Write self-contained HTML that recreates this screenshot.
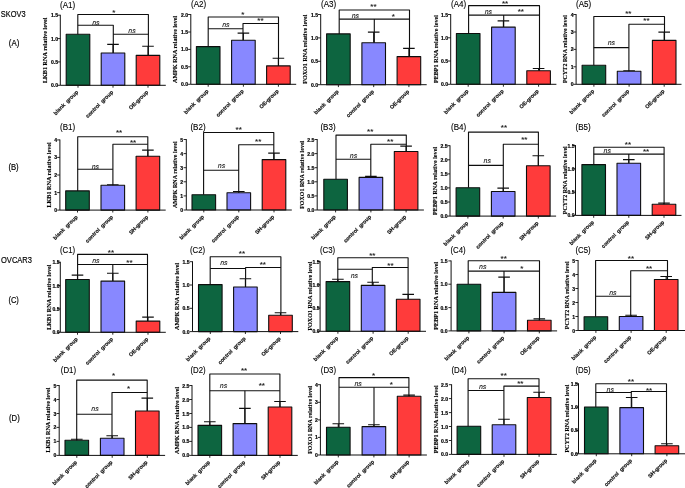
<!DOCTYPE html>
<html><head><meta charset="utf-8"><title>Figure</title>
<style>html,body{margin:0;padding:0;background:#fff;}body{width:685px;height:488px;overflow:hidden;font-family:"Liberation Sans",sans-serif;}svg{display:block;}</style>
</head><body>
<svg width="685" height="488" viewBox="0 0 685 488"><defs><filter id="bl" x="0" y="0" width="100%" height="100%" filterUnits="userSpaceOnUse"><feGaussianBlur stdDeviation="0.42"/></filter></defs><g filter="url(#bl)">
<rect width="685" height="488" fill="#fff"/>
<g font-family="Liberation Sans, sans-serif" fill="#000" stroke="#000" stroke-width="0.18" stroke-linejoin="round">
<text x="0.8" y="17.2" font-size="9.2" textLength="24.8" lengthAdjust="spacingAndGlyphs">SKOV3</text>
<text x="8.8" y="46.2" font-size="8.8" textLength="10.5" lengthAdjust="spacingAndGlyphs">(A)</text>
<text x="8.4" y="170" font-size="8.8" textLength="10.3" lengthAdjust="spacingAndGlyphs">(B)</text>
<text x="1" y="263.3" font-size="9.2" textLength="31" lengthAdjust="spacingAndGlyphs">OVCAR3</text>
<text x="8.4" y="303.3" font-size="8.8" textLength="10.5" lengthAdjust="spacingAndGlyphs">(C)</text>
<text x="9" y="420.6" font-size="8.8" textLength="10.7" lengthAdjust="spacingAndGlyphs">(D)</text>
<text x="60" y="7.8" font-size="8.8" stroke-width="0.12" textLength="15.2" lengthAdjust="spacingAndGlyphs">(A1)</text>
<rect x="66.2" y="34.3" width="23.6" height="51.0" fill="#07653f" stroke="#111" stroke-width="1.1"/>
<path d="M78.0 85.3v2.4" stroke="#111" stroke-width="0.9"/>
<path d="M113.0 53.0V44.4M107.2 44.4H118.8" stroke="#111" stroke-width="1.12" fill="none"/>
<rect x="101.2" y="53.0" width="23.6" height="32.3" fill="#8888ff" stroke="#111" stroke-width="1.1"/>
<path d="M113.0 85.3v2.4" stroke="#111" stroke-width="0.9"/>
<path d="M148.0 55.4V46.3M142.2 46.3H153.8" stroke="#111" stroke-width="1.12" fill="none"/>
<rect x="136.2" y="55.4" width="23.6" height="29.9" fill="#ff3a3a" stroke="#111" stroke-width="1.1"/>
<path d="M148.0 85.3v2.4" stroke="#111" stroke-width="0.9"/>
<path d="M60.3 14.8V85.3H165.8" stroke="#111" stroke-width="1" fill="none"/>
<path d="M57.6 85.3H60.3" stroke="#111" stroke-width="0.9"/>
<text x="58.1" y="87.3" font-size="5.1" font-weight="bold" text-anchor="end">0.0</text>
<path d="M57.6 61.9H60.3" stroke="#111" stroke-width="0.9"/>
<text x="58.1" y="63.9" font-size="5.1" font-weight="bold" text-anchor="end">0.5</text>
<path d="M57.6 38.6H60.3" stroke="#111" stroke-width="0.9"/>
<text x="58.1" y="40.6" font-size="5.1" font-weight="bold" text-anchor="end">1.0</text>
<path d="M57.6 15.2H60.3" stroke="#111" stroke-width="0.9"/>
<text x="58.1" y="17.2" font-size="5.1" font-weight="bold" text-anchor="end">1.5</text>
<text transform="translate(47.4 83.1) rotate(-90)" font-family="Liberation Serif, serif" font-weight="bold" font-size="6.4" stroke-width="0.14" textLength="65.6" lengthAdjust="spacingAndGlyphs">LKB1 RNA relative level</text>
<path d="M77.8 34.3 L77.8 14.5 L148.4 14.5 L148.4 55.4" stroke="#111" stroke-width="1.12" fill="none"/>
<path d="M77.8 25.2 L113.3 25.2 L113.3 53.0" stroke="#111" stroke-width="1.12" fill="none"/>
<path d="M113.3 34.3 L148.4 34.3" stroke="#111" stroke-width="1.12" fill="none"/>
<text x="113.8" y="14.7" font-size="8" text-anchor="middle" fill="#222" stroke-width="0.12">*</text>
<text transform="translate(95.8 24.5) skewX(-2)" font-size="6.9" font-style="italic" text-anchor="middle" fill="#222" stroke-width="0.1">ns</text>
<text transform="translate(132.0 32.7) skewX(-2)" font-size="6.9" font-style="italic" text-anchor="middle" fill="#222" stroke-width="0.1">ns</text>
<text transform="translate(78.6 92.5) rotate(-45)" font-size="5.4" font-weight="bold" text-anchor="end" style="white-space:pre" fill="#222">blank  group</text>
<text transform="translate(113.6 92.5) rotate(-45)" font-size="5.4" font-weight="bold" text-anchor="end" style="white-space:pre" fill="#222">control  group</text>
<text transform="translate(148.6 92.5) rotate(-45)" font-size="5.4" font-weight="bold" text-anchor="end" style="white-space:pre" fill="#222">OE-group</text>
<text x="191" y="7.1" font-size="8.8" stroke-width="0.12" textLength="15.2" lengthAdjust="spacingAndGlyphs">(A2)</text>
<rect x="196.4" y="46.6" width="23.6" height="37.7" fill="#07653f" stroke="#111" stroke-width="1.1"/>
<path d="M208.2 84.3v2.4" stroke="#111" stroke-width="0.9"/>
<path d="M243.4 40.2V33.1M237.6 33.1H249.2" stroke="#111" stroke-width="1.12" fill="none"/>
<rect x="231.6" y="40.2" width="23.6" height="44.1" fill="#8888ff" stroke="#111" stroke-width="1.1"/>
<path d="M243.4 84.3v2.4" stroke="#111" stroke-width="0.9"/>
<path d="M278.4 65.9V58.2M272.6 58.2H284.2" stroke="#111" stroke-width="1.12" fill="none"/>
<rect x="266.6" y="65.9" width="23.6" height="18.4" fill="#ff3a3a" stroke="#111" stroke-width="1.1"/>
<path d="M278.4 84.3v2.4" stroke="#111" stroke-width="0.9"/>
<path d="M190.8 14.1V84.3H296.2" stroke="#111" stroke-width="1" fill="none"/>
<path d="M188.1 84.3H190.8" stroke="#111" stroke-width="0.9"/>
<text x="188.2" y="86.3" font-size="5.1" font-weight="bold" text-anchor="end">0.0</text>
<path d="M188.1 66.8H190.8" stroke="#111" stroke-width="0.9"/>
<text x="188.2" y="68.8" font-size="5.1" font-weight="bold" text-anchor="end">0.5</text>
<path d="M188.1 49.4H190.8" stroke="#111" stroke-width="0.9"/>
<text x="188.2" y="51.4" font-size="5.1" font-weight="bold" text-anchor="end">1.0</text>
<path d="M188.1 32.0H190.8" stroke="#111" stroke-width="0.9"/>
<text x="188.2" y="34.0" font-size="5.1" font-weight="bold" text-anchor="end">1.5</text>
<path d="M188.1 14.5H190.8" stroke="#111" stroke-width="0.9"/>
<text x="188.2" y="16.5" font-size="5.1" font-weight="bold" text-anchor="end">2.0</text>
<text transform="translate(177.1 82.9) rotate(-90)" font-family="Liberation Serif, serif" font-weight="bold" font-size="6.4" stroke-width="0.14" textLength="67.1" lengthAdjust="spacingAndGlyphs">AMPK RNA relative level</text>
<path d="M208.2 46.6 L208.2 17.0 L278.5 17.0 L278.5 65.9" stroke="#111" stroke-width="1.12" fill="none"/>
<path d="M208.2 28.7 L243.0 28.7" stroke="#111" stroke-width="1.12" fill="none"/>
<path d="M243.0 40.2 L243.0 23.5 L278.5 23.5" stroke="#111" stroke-width="1.12" fill="none"/>
<text x="242.8" y="16.5" font-size="8" text-anchor="middle" fill="#222" stroke-width="0.12">*</text>
<text x="260.4" y="23.2" font-size="8" text-anchor="middle" fill="#222" stroke-width="0.12">**</text>
<text transform="translate(225.9 27.4) skewX(-2)" font-size="6.9" font-style="italic" text-anchor="middle" fill="#222" stroke-width="0.1">ns</text>
<text transform="translate(208.8 91.5) rotate(-45)" font-size="5.4" font-weight="bold" text-anchor="end" style="white-space:pre" fill="#222">blank  group</text>
<text transform="translate(244.0 91.5) rotate(-45)" font-size="5.4" font-weight="bold" text-anchor="end" style="white-space:pre" fill="#222">control  group</text>
<text transform="translate(279.0 91.5) rotate(-45)" font-size="5.4" font-weight="bold" text-anchor="end" style="white-space:pre" fill="#222">OE-group</text>
<text x="321" y="6.9" font-size="8.8" stroke-width="0.12" textLength="15.2" lengthAdjust="spacingAndGlyphs">(A3)</text>
<rect x="326.6" y="33.9" width="23.6" height="50.8" fill="#07653f" stroke="#111" stroke-width="1.1"/>
<path d="M338.4 84.7v2.4" stroke="#111" stroke-width="0.9"/>
<path d="M373.7 42.8V32.1M367.9 32.1H379.5" stroke="#111" stroke-width="1.12" fill="none"/>
<rect x="361.9" y="42.8" width="23.6" height="41.9" fill="#8888ff" stroke="#111" stroke-width="1.1"/>
<path d="M373.7 84.7v2.4" stroke="#111" stroke-width="0.9"/>
<path d="M408.9 56.6V48.4M403.1 48.4H414.7" stroke="#111" stroke-width="1.12" fill="none"/>
<rect x="397.1" y="56.6" width="23.6" height="28.1" fill="#ff3a3a" stroke="#111" stroke-width="1.1"/>
<path d="M408.9 84.7v2.4" stroke="#111" stroke-width="0.9"/>
<path d="M320.7 14.1V84.7H426.7" stroke="#111" stroke-width="1" fill="none"/>
<path d="M318.0 84.7H320.7" stroke="#111" stroke-width="0.9"/>
<text x="318.1" y="86.7" font-size="5.1" font-weight="bold" text-anchor="end">0.0</text>
<path d="M318.0 61.3H320.7" stroke="#111" stroke-width="0.9"/>
<text x="318.1" y="63.3" font-size="5.1" font-weight="bold" text-anchor="end">0.5</text>
<path d="M318.0 37.9H320.7" stroke="#111" stroke-width="0.9"/>
<text x="318.1" y="39.9" font-size="5.1" font-weight="bold" text-anchor="end">1.0</text>
<path d="M318.0 14.5H320.7" stroke="#111" stroke-width="0.9"/>
<text x="318.1" y="16.5" font-size="5.1" font-weight="bold" text-anchor="end">1.5</text>
<text transform="translate(307.1 83.7) rotate(-90)" font-family="Liberation Serif, serif" font-weight="bold" font-size="6.4" stroke-width="0.14" textLength="69.2" lengthAdjust="spacingAndGlyphs">FOXO1 RNA relative level</text>
<path d="M339.2 33.9 L339.2 10.0 L409.5 10.0 L409.5 56.6" stroke="#111" stroke-width="1.12" fill="none"/>
<path d="M339.2 19.1 L409.5 19.1" stroke="#111" stroke-width="1.12" fill="none"/>
<path d="M374.3 19.1 L374.3 42.8" stroke="#111" stroke-width="1.12" fill="none"/>
<text x="373.4" y="9.1" font-size="8" text-anchor="middle" fill="#222" stroke-width="0.12">**</text>
<text transform="translate(355.3 18.4) skewX(-2)" font-size="6.9" font-style="italic" text-anchor="middle" fill="#222" stroke-width="0.1">ns</text>
<text x="393.4" y="18.5" font-size="8" text-anchor="middle" fill="#222" stroke-width="0.12">*</text>
<text transform="translate(339.0 91.9) rotate(-45)" font-size="5.4" font-weight="bold" text-anchor="end" style="white-space:pre" fill="#222">blank  group</text>
<text transform="translate(374.3 91.9) rotate(-45)" font-size="5.4" font-weight="bold" text-anchor="end" style="white-space:pre" fill="#222">control  group</text>
<text transform="translate(409.5 91.9) rotate(-45)" font-size="5.4" font-weight="bold" text-anchor="end" style="white-space:pre" fill="#222">OE-group</text>
<text x="451" y="7.1" font-size="8.8" stroke-width="0.12" textLength="15.2" lengthAdjust="spacingAndGlyphs">(A4)</text>
<rect x="456.4" y="33.5" width="23.6" height="50.8" fill="#07653f" stroke="#111" stroke-width="1.1"/>
<path d="M468.2 84.3v2.4" stroke="#111" stroke-width="0.9"/>
<path d="M503.4 27.1V20.9M497.6 20.9H509.2" stroke="#111" stroke-width="1.12" fill="none"/>
<rect x="491.6" y="27.1" width="23.6" height="57.2" fill="#8888ff" stroke="#111" stroke-width="1.1"/>
<path d="M503.4 84.3v2.4" stroke="#111" stroke-width="0.9"/>
<path d="M538.6 70.7V68.5M532.8 68.5H544.4" stroke="#111" stroke-width="1.12" fill="none"/>
<rect x="526.8" y="70.7" width="23.6" height="13.6" fill="#ff3a3a" stroke="#111" stroke-width="1.1"/>
<path d="M538.6 84.3v2.4" stroke="#111" stroke-width="0.9"/>
<path d="M450.7 14.1V84.3H556.4" stroke="#111" stroke-width="1" fill="none"/>
<path d="M448.0 84.3H450.7" stroke="#111" stroke-width="0.9"/>
<text x="448.1" y="86.3" font-size="5.1" font-weight="bold" text-anchor="end">0.0</text>
<path d="M448.0 61.0H450.7" stroke="#111" stroke-width="0.9"/>
<text x="448.1" y="63.0" font-size="5.1" font-weight="bold" text-anchor="end">0.5</text>
<path d="M448.0 37.8H450.7" stroke="#111" stroke-width="0.9"/>
<text x="448.1" y="39.8" font-size="5.1" font-weight="bold" text-anchor="end">1.0</text>
<path d="M448.0 14.5H450.7" stroke="#111" stroke-width="0.9"/>
<text x="448.1" y="16.5" font-size="5.1" font-weight="bold" text-anchor="end">1.5</text>
<text transform="translate(437.6 83.1) rotate(-90)" font-family="Liberation Serif, serif" font-weight="bold" font-size="6.4" stroke-width="0.14" textLength="68" lengthAdjust="spacingAndGlyphs">PEBP1 RNA relative level</text>
<path d="M468.6 33.5 L468.6 5.6 L539.5 5.6 L539.5 70.7" stroke="#111" stroke-width="1.12" fill="none"/>
<path d="M468.6 15.1 L539.5 15.1" stroke="#111" stroke-width="1.12" fill="none"/>
<path d="M503.7 15.1 L503.7 27.1" stroke="#111" stroke-width="1.12" fill="none"/>
<text x="505.0" y="6.0" font-size="8" text-anchor="middle" fill="#222" stroke-width="0.12">**</text>
<text transform="translate(488.3 13.9) skewX(-2)" font-size="6.9" font-style="italic" text-anchor="middle" fill="#222" stroke-width="0.1">ns</text>
<text x="520.8" y="13.9" font-size="8" text-anchor="middle" fill="#222" stroke-width="0.12">**</text>
<text transform="translate(468.8 91.5) rotate(-45)" font-size="5.4" font-weight="bold" text-anchor="end" style="white-space:pre" fill="#222">blank  group</text>
<text transform="translate(504.0 91.5) rotate(-45)" font-size="5.4" font-weight="bold" text-anchor="end" style="white-space:pre" fill="#222">control  group</text>
<text transform="translate(539.2 91.5) rotate(-45)" font-size="5.4" font-weight="bold" text-anchor="end" style="white-space:pre" fill="#222">OE-group</text>
<text x="576" y="7.1" font-size="8.8" stroke-width="0.12" textLength="15.2" lengthAdjust="spacingAndGlyphs">(A5)</text>
<rect x="582.1" y="65.3" width="23.6" height="19.0" fill="#07653f" stroke="#111" stroke-width="1.1"/>
<path d="M593.9 84.3v2.4" stroke="#111" stroke-width="0.9"/>
<path d="M629.1 71.3V70.7M623.3 70.7H634.9" stroke="#111" stroke-width="1.12" fill="none"/>
<rect x="617.3" y="71.3" width="23.6" height="13.0" fill="#8888ff" stroke="#111" stroke-width="1.1"/>
<path d="M629.1 84.3v2.4" stroke="#111" stroke-width="0.9"/>
<path d="M664.2 40.4V32.1M658.4 32.1H670.0" stroke="#111" stroke-width="1.12" fill="none"/>
<rect x="652.4" y="40.4" width="23.6" height="43.9" fill="#ff3a3a" stroke="#111" stroke-width="1.1"/>
<path d="M664.2 84.3v2.4" stroke="#111" stroke-width="0.9"/>
<path d="M576.1 14.1V84.3H681.5" stroke="#111" stroke-width="1" fill="none"/>
<path d="M573.4 84.3H576.1" stroke="#111" stroke-width="0.9"/>
<text x="573.7" y="86.3" font-size="5.1" font-weight="bold" text-anchor="end">0</text>
<path d="M573.4 66.8H576.1" stroke="#111" stroke-width="0.9"/>
<text x="573.7" y="68.8" font-size="5.1" font-weight="bold" text-anchor="end">1</text>
<path d="M573.4 49.4H576.1" stroke="#111" stroke-width="0.9"/>
<text x="573.7" y="51.4" font-size="5.1" font-weight="bold" text-anchor="end">2</text>
<path d="M573.4 32.0H576.1" stroke="#111" stroke-width="0.9"/>
<text x="573.7" y="34.0" font-size="5.1" font-weight="bold" text-anchor="end">3</text>
<path d="M573.4 14.5H576.1" stroke="#111" stroke-width="0.9"/>
<text x="573.7" y="16.5" font-size="5.1" font-weight="bold" text-anchor="end">4</text>
<text transform="translate(567.1 83.1) rotate(-90)" font-family="Liberation Serif, serif" font-weight="bold" font-size="6.4" stroke-width="0.14" textLength="68" lengthAdjust="spacingAndGlyphs">PCYT2 RNA relative level</text>
<path d="M593.8 65.3 L593.8 16.5 L664.5 16.5 L664.5 40.4" stroke="#111" stroke-width="1.12" fill="none"/>
<path d="M628.9 71.3 L628.9 24.3 L664.5 24.3" stroke="#111" stroke-width="1.12" fill="none"/>
<path d="M593.8 47.6 L628.9 47.6" stroke="#111" stroke-width="1.12" fill="none"/>
<text x="628.3" y="16.2" font-size="8" text-anchor="middle" fill="#222" stroke-width="0.12">**</text>
<text x="646.4" y="23.0" font-size="8" text-anchor="middle" fill="#222" stroke-width="0.12">**</text>
<text transform="translate(611.3 45.1) skewX(-2)" font-size="6.9" font-style="italic" text-anchor="middle" fill="#222" stroke-width="0.1">ns</text>
<text transform="translate(594.5 91.5) rotate(-45)" font-size="5.4" font-weight="bold" text-anchor="end" style="white-space:pre" fill="#222">blank  group</text>
<text transform="translate(629.7 91.5) rotate(-45)" font-size="5.4" font-weight="bold" text-anchor="end" style="white-space:pre" fill="#222">control  group</text>
<text transform="translate(664.8 91.5) rotate(-45)" font-size="5.4" font-weight="bold" text-anchor="end" style="white-space:pre" fill="#222">OE-group</text>
<text x="60" y="130" font-size="8.8" stroke-width="0.12" textLength="15.2" lengthAdjust="spacingAndGlyphs">(B1)</text>
<rect x="65.7" y="190.9" width="23.6" height="19.2" fill="#07653f" stroke="#111" stroke-width="1.1"/>
<path d="M77.5 210.1v2.4" stroke="#111" stroke-width="0.9"/>
<path d="M112.8 185.3V184.7M107.0 184.7H118.6" stroke="#111" stroke-width="1.12" fill="none"/>
<rect x="101.0" y="185.3" width="23.6" height="24.8" fill="#8888ff" stroke="#111" stroke-width="1.1"/>
<path d="M112.8 210.1v2.4" stroke="#111" stroke-width="0.9"/>
<path d="M147.9 156.2V150.1M142.1 150.1H153.7" stroke="#111" stroke-width="1.12" fill="none"/>
<rect x="136.1" y="156.2" width="23.6" height="53.9" fill="#ff3a3a" stroke="#111" stroke-width="1.1"/>
<path d="M147.9 210.1v2.4" stroke="#111" stroke-width="0.9"/>
<path d="M59.9 139.5V210.1H165.7" stroke="#111" stroke-width="1" fill="none"/>
<path d="M57.2 210.1H59.9" stroke="#111" stroke-width="0.9"/>
<text x="57.2" y="212.1" font-size="5.1" font-weight="bold" text-anchor="end">0</text>
<path d="M57.2 192.6H59.9" stroke="#111" stroke-width="0.9"/>
<text x="57.2" y="194.6" font-size="5.1" font-weight="bold" text-anchor="end">1</text>
<path d="M57.2 175.0H59.9" stroke="#111" stroke-width="0.9"/>
<text x="57.2" y="177.0" font-size="5.1" font-weight="bold" text-anchor="end">2</text>
<path d="M57.2 157.4H59.9" stroke="#111" stroke-width="0.9"/>
<text x="57.2" y="159.4" font-size="5.1" font-weight="bold" text-anchor="end">3</text>
<path d="M57.2 139.9H59.9" stroke="#111" stroke-width="0.9"/>
<text x="57.2" y="141.9" font-size="5.1" font-weight="bold" text-anchor="end">4</text>
<text transform="translate(50.6 207.6) rotate(-90)" font-family="Liberation Serif, serif" font-weight="bold" font-size="6.4" stroke-width="0.14" textLength="65.3" lengthAdjust="spacingAndGlyphs">LKB1 RNA relative level</text>
<path d="M77.7 190.9 L77.7 136.7 L147.8 136.7 L147.8 156.2" stroke="#111" stroke-width="1.12" fill="none"/>
<path d="M112.9 185.3 L112.9 144.3 L147.8 144.3" stroke="#111" stroke-width="1.12" fill="none"/>
<path d="M77.7 169.2 L112.9 169.2" stroke="#111" stroke-width="1.12" fill="none"/>
<text x="119.1" y="134.6" font-size="8" text-anchor="middle" fill="#222" stroke-width="0.12">**</text>
<text x="133.1" y="144.6" font-size="8" text-anchor="middle" fill="#222" stroke-width="0.12">**</text>
<text transform="translate(95.4 168.5) skewX(-2)" font-size="6.9" font-style="italic" text-anchor="middle" fill="#222" stroke-width="0.1">ns</text>
<text transform="translate(78.1 217.3) rotate(-45)" font-size="5.4" font-weight="bold" text-anchor="end" style="white-space:pre" fill="#222">blank  group</text>
<text transform="translate(113.4 217.3) rotate(-45)" font-size="5.4" font-weight="bold" text-anchor="end" style="white-space:pre" fill="#222">control  group</text>
<text transform="translate(148.5 217.3) rotate(-45)" font-size="5.4" font-weight="bold" text-anchor="end" style="white-space:pre" fill="#222">SH-group</text>
<text x="190.4" y="130" font-size="8.8" stroke-width="0.12" textLength="15.2" lengthAdjust="spacingAndGlyphs">(B2)</text>
<rect x="192.0" y="194.7" width="23.6" height="15.3" fill="#07653f" stroke="#111" stroke-width="1.1"/>
<path d="M203.8 210.0v2.4" stroke="#111" stroke-width="0.9"/>
<path d="M238.8 192.7V191.5M233.0 191.5H244.6" stroke="#111" stroke-width="1.12" fill="none"/>
<rect x="227.0" y="192.7" width="23.6" height="17.3" fill="#8888ff" stroke="#111" stroke-width="1.1"/>
<path d="M238.8 210.0v2.4" stroke="#111" stroke-width="0.9"/>
<path d="M274.0 159.6V153.1M268.2 153.1H279.8" stroke="#111" stroke-width="1.12" fill="none"/>
<rect x="262.2" y="159.6" width="23.6" height="50.4" fill="#ff3a3a" stroke="#111" stroke-width="1.1"/>
<path d="M274.0 210.0v2.4" stroke="#111" stroke-width="0.9"/>
<path d="M186.3 139.1V210.0H291.8" stroke="#111" stroke-width="1" fill="none"/>
<path d="M183.6 210.0H186.3" stroke="#111" stroke-width="0.9"/>
<text x="183.2" y="212.0" font-size="5.1" font-weight="bold" text-anchor="end">0</text>
<path d="M183.6 195.9H186.3" stroke="#111" stroke-width="0.9"/>
<text x="183.2" y="197.9" font-size="5.1" font-weight="bold" text-anchor="end">1</text>
<path d="M183.6 181.8H186.3" stroke="#111" stroke-width="0.9"/>
<text x="183.2" y="183.8" font-size="5.1" font-weight="bold" text-anchor="end">2</text>
<path d="M183.6 167.7H186.3" stroke="#111" stroke-width="0.9"/>
<text x="183.2" y="169.7" font-size="5.1" font-weight="bold" text-anchor="end">3</text>
<path d="M183.6 153.6H186.3" stroke="#111" stroke-width="0.9"/>
<text x="183.2" y="155.6" font-size="5.1" font-weight="bold" text-anchor="end">4</text>
<path d="M183.6 139.5H186.3" stroke="#111" stroke-width="0.9"/>
<text x="183.2" y="141.5" font-size="5.1" font-weight="bold" text-anchor="end">5</text>
<text transform="translate(177.3 208.0) rotate(-90)" font-family="Liberation Serif, serif" font-weight="bold" font-size="6.4" stroke-width="0.14" textLength="66.7" lengthAdjust="spacingAndGlyphs">AMPK RNA relative level</text>
<path d="M203.6 194.7 L203.6 132.5 L273.8 132.5 L273.8 159.6" stroke="#111" stroke-width="1.12" fill="none"/>
<path d="M238.7 192.7 L238.7 144.7 L273.8 144.7" stroke="#111" stroke-width="1.12" fill="none"/>
<path d="M203.6 170.2 L238.7 170.2" stroke="#111" stroke-width="1.12" fill="none"/>
<text x="238.7" y="131.5" font-size="8" text-anchor="middle" fill="#222" stroke-width="0.12">**</text>
<text x="258.2" y="144.0" font-size="8" text-anchor="middle" fill="#222" stroke-width="0.12">**</text>
<text transform="translate(221.5 168.1) skewX(-2)" font-size="6.9" font-style="italic" text-anchor="middle" fill="#222" stroke-width="0.1">ns</text>
<text transform="translate(204.4 217.2) rotate(-45)" font-size="5.4" font-weight="bold" text-anchor="end" style="white-space:pre" fill="#222">blank  group</text>
<text transform="translate(239.4 217.2) rotate(-45)" font-size="5.4" font-weight="bold" text-anchor="end" style="white-space:pre" fill="#222">control  group</text>
<text transform="translate(274.6 217.2) rotate(-45)" font-size="5.4" font-weight="bold" text-anchor="end" style="white-space:pre" fill="#222">SH-group</text>
<text x="320.4" y="130" font-size="8.8" stroke-width="0.12" textLength="15.2" lengthAdjust="spacingAndGlyphs">(B3)</text>
<rect x="323.8" y="179.2" width="23.6" height="30.8" fill="#07653f" stroke="#111" stroke-width="1.1"/>
<path d="M335.6 210.0v2.4" stroke="#111" stroke-width="0.9"/>
<path d="M370.9 177.4V176.4M365.1 176.4H376.7" stroke="#111" stroke-width="1.12" fill="none"/>
<rect x="359.1" y="177.4" width="23.6" height="32.6" fill="#8888ff" stroke="#111" stroke-width="1.1"/>
<path d="M370.9 210.0v2.4" stroke="#111" stroke-width="0.9"/>
<path d="M406.1 151.5V146.1M400.3 146.1H411.9" stroke="#111" stroke-width="1.12" fill="none"/>
<rect x="394.3" y="151.5" width="23.6" height="58.5" fill="#ff3a3a" stroke="#111" stroke-width="1.1"/>
<path d="M406.1 210.0v2.4" stroke="#111" stroke-width="0.9"/>
<path d="M317.2 139.1V210.0H423.9" stroke="#111" stroke-width="1" fill="none"/>
<path d="M314.5 210.0H317.2" stroke="#111" stroke-width="0.9"/>
<text x="314.4" y="212.0" font-size="5.1" font-weight="bold" text-anchor="end">0.0</text>
<path d="M314.5 195.9H317.2" stroke="#111" stroke-width="0.9"/>
<text x="314.4" y="197.9" font-size="5.1" font-weight="bold" text-anchor="end">0.5</text>
<path d="M314.5 181.8H317.2" stroke="#111" stroke-width="0.9"/>
<text x="314.4" y="183.8" font-size="5.1" font-weight="bold" text-anchor="end">1.0</text>
<path d="M314.5 167.7H317.2" stroke="#111" stroke-width="0.9"/>
<text x="314.4" y="169.7" font-size="5.1" font-weight="bold" text-anchor="end">1.5</text>
<path d="M314.5 153.6H317.2" stroke="#111" stroke-width="0.9"/>
<text x="314.4" y="155.6" font-size="5.1" font-weight="bold" text-anchor="end">2.0</text>
<path d="M314.5 139.5H317.2" stroke="#111" stroke-width="0.9"/>
<text x="314.4" y="141.5" font-size="5.1" font-weight="bold" text-anchor="end">2.5</text>
<text transform="translate(304.2 208.8) rotate(-90)" font-family="Liberation Serif, serif" font-weight="bold" font-size="6.4" stroke-width="0.14" textLength="68" lengthAdjust="spacingAndGlyphs">FOXO1 RNA relative level</text>
<path d="M336.0 179.2 L336.0 135.1 L406.3 135.1 L406.3 151.5" stroke="#111" stroke-width="1.12" fill="none"/>
<path d="M370.8 177.4 L370.8 144.3 L406.3 144.3" stroke="#111" stroke-width="1.12" fill="none"/>
<path d="M336.0 159.2 L370.8 159.2" stroke="#111" stroke-width="1.12" fill="none"/>
<text x="370.2" y="134.2" font-size="8" text-anchor="middle" fill="#222" stroke-width="0.12">**</text>
<text x="390.2" y="144.0" font-size="8" text-anchor="middle" fill="#222" stroke-width="0.12">**</text>
<text transform="translate(353.5 158.1) skewX(-2)" font-size="6.9" font-style="italic" text-anchor="middle" fill="#222" stroke-width="0.1">ns</text>
<text transform="translate(336.2 217.2) rotate(-45)" font-size="5.4" font-weight="bold" text-anchor="end" style="white-space:pre" fill="#222">blank  group</text>
<text transform="translate(371.5 217.2) rotate(-45)" font-size="5.4" font-weight="bold" text-anchor="end" style="white-space:pre" fill="#222">control  group</text>
<text transform="translate(406.7 217.2) rotate(-45)" font-size="5.4" font-weight="bold" text-anchor="end" style="white-space:pre" fill="#222">SH-group</text>
<text x="451" y="130" font-size="8.8" stroke-width="0.12" textLength="15.2" lengthAdjust="spacingAndGlyphs">(B4)</text>
<rect x="456.1" y="187.7" width="23.6" height="28.4" fill="#07653f" stroke="#111" stroke-width="1.1"/>
<path d="M467.9 216.1v2.4" stroke="#111" stroke-width="0.9"/>
<path d="M503.2 191.5V188.1M497.4 188.1H509.0" stroke="#111" stroke-width="1.12" fill="none"/>
<rect x="491.4" y="191.5" width="23.6" height="24.6" fill="#8888ff" stroke="#111" stroke-width="1.1"/>
<path d="M503.2 216.1v2.4" stroke="#111" stroke-width="0.9"/>
<path d="M538.3 165.8V155.8M532.5 155.8H544.1" stroke="#111" stroke-width="1.12" fill="none"/>
<rect x="526.5" y="165.8" width="23.6" height="50.3" fill="#ff3a3a" stroke="#111" stroke-width="1.1"/>
<path d="M538.3 216.1v2.4" stroke="#111" stroke-width="0.9"/>
<path d="M450.0 145.3V216.1H556.1" stroke="#111" stroke-width="1" fill="none"/>
<path d="M447.3 216.1H450.0" stroke="#111" stroke-width="0.9"/>
<text x="447.6" y="218.1" font-size="5.1" font-weight="bold" text-anchor="end">0.0</text>
<path d="M447.3 202.0H450.0" stroke="#111" stroke-width="0.9"/>
<text x="447.6" y="204.0" font-size="5.1" font-weight="bold" text-anchor="end">0.5</text>
<path d="M447.3 187.9H450.0" stroke="#111" stroke-width="0.9"/>
<text x="447.6" y="189.9" font-size="5.1" font-weight="bold" text-anchor="end">1.0</text>
<path d="M447.3 173.9H450.0" stroke="#111" stroke-width="0.9"/>
<text x="447.6" y="175.9" font-size="5.1" font-weight="bold" text-anchor="end">1.5</text>
<path d="M447.3 159.8H450.0" stroke="#111" stroke-width="0.9"/>
<text x="447.6" y="161.8" font-size="5.1" font-weight="bold" text-anchor="end">2.0</text>
<path d="M447.3 145.7H450.0" stroke="#111" stroke-width="0.9"/>
<text x="447.6" y="147.7" font-size="5.1" font-weight="bold" text-anchor="end">2.5</text>
<text transform="translate(437.0 214.9) rotate(-90)" font-family="Liberation Serif, serif" font-weight="bold" font-size="6.4" stroke-width="0.14" textLength="68" lengthAdjust="spacingAndGlyphs">PEBP1 RNA relative level</text>
<path d="M468.5 187.7 L468.5 132.1 L538.4 132.1 L538.4 165.8" stroke="#111" stroke-width="1.12" fill="none"/>
<path d="M503.3 191.5 L503.3 144.3 L538.4 144.3" stroke="#111" stroke-width="1.12" fill="none"/>
<path d="M468.5 165.4 L503.3 165.4" stroke="#111" stroke-width="1.12" fill="none"/>
<text x="503.9" y="129.9" font-size="8" text-anchor="middle" fill="#222" stroke-width="0.12">**</text>
<text x="524.3" y="142.0" font-size="8" text-anchor="middle" fill="#222" stroke-width="0.12">**</text>
<text transform="translate(487.2 162.9) skewX(-2)" font-size="6.9" font-style="italic" text-anchor="middle" fill="#222" stroke-width="0.1">ns</text>
<text transform="translate(468.5 223.3) rotate(-45)" font-size="5.4" font-weight="bold" text-anchor="end" style="white-space:pre" fill="#222">blank  group</text>
<text transform="translate(503.8 223.3) rotate(-45)" font-size="5.4" font-weight="bold" text-anchor="end" style="white-space:pre" fill="#222">control  group</text>
<text transform="translate(538.9 223.3) rotate(-45)" font-size="5.4" font-weight="bold" text-anchor="end" style="white-space:pre" fill="#222">SH-group</text>
<text x="575.5" y="130" font-size="8.8" stroke-width="0.12" textLength="15.2" lengthAdjust="spacingAndGlyphs">(B5)</text>
<rect x="581.9" y="164.6" width="23.6" height="50.8" fill="#07653f" stroke="#111" stroke-width="1.1"/>
<path d="M593.7 215.4v2.4" stroke="#111" stroke-width="0.9"/>
<path d="M628.8 163.2V159.6M623.0 159.6H634.6" stroke="#111" stroke-width="1.12" fill="none"/>
<rect x="617.0" y="163.2" width="23.6" height="52.2" fill="#8888ff" stroke="#111" stroke-width="1.1"/>
<path d="M628.8 215.4v2.4" stroke="#111" stroke-width="0.9"/>
<path d="M664.0 204.3V203.1M658.2 203.1H669.8" stroke="#111" stroke-width="1.12" fill="none"/>
<rect x="652.2" y="204.3" width="23.6" height="11.1" fill="#ff3a3a" stroke="#111" stroke-width="1.1"/>
<path d="M664.0 215.4v2.4" stroke="#111" stroke-width="0.9"/>
<path d="M575.5 145.1V215.4H681.5" stroke="#111" stroke-width="1" fill="none"/>
<path d="M572.8 215.4H575.5" stroke="#111" stroke-width="0.9"/>
<text x="574.5" y="217.4" font-size="5.1" font-weight="bold" text-anchor="end">0.0</text>
<path d="M572.8 192.1H575.5" stroke="#111" stroke-width="0.9"/>
<text x="574.5" y="194.1" font-size="5.1" font-weight="bold" text-anchor="end">0.5</text>
<path d="M572.8 168.8H575.5" stroke="#111" stroke-width="0.9"/>
<text x="574.5" y="170.8" font-size="5.1" font-weight="bold" text-anchor="end">1.0</text>
<path d="M572.8 145.5H575.5" stroke="#111" stroke-width="0.9"/>
<text x="574.5" y="147.5" font-size="5.1" font-weight="bold" text-anchor="end">1.5</text>
<text transform="translate(567.1 214.2) rotate(-90)" font-family="Liberation Serif, serif" font-weight="bold" font-size="6.4" stroke-width="0.14" textLength="68" lengthAdjust="spacingAndGlyphs">PCYT2 RNA relative level</text>
<path d="M593.8 164.6 L593.8 147.3 L664.1 147.3 L664.1 204.3" stroke="#111" stroke-width="1.12" fill="none"/>
<path d="M593.8 154.1 L664.1 154.1" stroke="#111" stroke-width="1.12" fill="none"/>
<path d="M628.8 154.1 L628.8 163.2" stroke="#111" stroke-width="1.12" fill="none"/>
<text x="627.9" y="147.0" font-size="8" text-anchor="middle" fill="#222" stroke-width="0.12">**</text>
<text transform="translate(607.2 153.4) skewX(-2)" font-size="6.9" font-style="italic" text-anchor="middle" fill="#222" stroke-width="0.1">ns</text>
<text x="646.0" y="154.2" font-size="8" text-anchor="middle" fill="#222" stroke-width="0.12">**</text>
<text transform="translate(594.3 222.6) rotate(-45)" font-size="5.4" font-weight="bold" text-anchor="end" style="white-space:pre" fill="#222">blank  group</text>
<text transform="translate(629.4 222.6) rotate(-45)" font-size="5.4" font-weight="bold" text-anchor="end" style="white-space:pre" fill="#222">control  group</text>
<text transform="translate(664.6 222.6) rotate(-45)" font-size="5.4" font-weight="bold" text-anchor="end" style="white-space:pre" fill="#222">SH-group</text>
<text x="60" y="253.2" font-size="8.8" stroke-width="0.12" textLength="15.2" lengthAdjust="spacingAndGlyphs">(C1)</text>
<path d="M77.5 279.5V275.1M71.7 275.1H83.3" stroke="#111" stroke-width="1.12" fill="none"/>
<rect x="65.7" y="279.5" width="23.6" height="52.8" fill="#07653f" stroke="#111" stroke-width="1.1"/>
<path d="M77.5 332.3v2.4" stroke="#111" stroke-width="0.9"/>
<path d="M112.8 281.1V273.3M107.0 273.3H118.6" stroke="#111" stroke-width="1.12" fill="none"/>
<rect x="101.0" y="281.1" width="23.6" height="51.2" fill="#8888ff" stroke="#111" stroke-width="1.1"/>
<path d="M112.8 332.3v2.4" stroke="#111" stroke-width="0.9"/>
<path d="M148.0 321.1V317.1M142.2 317.1H153.8" stroke="#111" stroke-width="1.12" fill="none"/>
<rect x="136.2" y="321.1" width="23.6" height="11.2" fill="#ff3a3a" stroke="#111" stroke-width="1.1"/>
<path d="M148.0 332.3v2.4" stroke="#111" stroke-width="0.9"/>
<path d="M60.3 261.8V332.3H165.8" stroke="#111" stroke-width="1" fill="none"/>
<path d="M57.6 332.3H60.3" stroke="#111" stroke-width="0.9"/>
<text x="59.6" y="334.3" font-size="5.1" font-weight="bold" text-anchor="end">0.0</text>
<path d="M57.6 308.9H60.3" stroke="#111" stroke-width="0.9"/>
<text x="59.6" y="310.9" font-size="5.1" font-weight="bold" text-anchor="end">0.5</text>
<path d="M57.6 285.6H60.3" stroke="#111" stroke-width="0.9"/>
<text x="59.6" y="287.6" font-size="5.1" font-weight="bold" text-anchor="end">1.0</text>
<path d="M57.6 262.2H60.3" stroke="#111" stroke-width="0.9"/>
<text x="59.6" y="264.2" font-size="5.1" font-weight="bold" text-anchor="end">1.5</text>
<text transform="translate(50.7 329.8) rotate(-90)" font-family="Liberation Serif, serif" font-weight="bold" font-size="6.4" stroke-width="0.14" textLength="65.3" lengthAdjust="spacingAndGlyphs">LKB1 RNA relative level</text>
<path d="M77.6 279.5 L77.6 254.4 L147.5 254.4 L147.5 321.1" stroke="#111" stroke-width="1.12" fill="none"/>
<path d="M77.6 264.5 L147.5 264.5" stroke="#111" stroke-width="1.12" fill="none"/>
<path d="M112.8 264.5 L112.8 281.1" stroke="#111" stroke-width="1.12" fill="none"/>
<text x="110.9" y="254.5" font-size="8" text-anchor="middle" fill="#222" stroke-width="0.12">**</text>
<text transform="translate(95.9 263.0) skewX(-2)" font-size="6.9" font-style="italic" text-anchor="middle" fill="#222" stroke-width="0.1">ns</text>
<text x="129.4" y="264.6" font-size="8" text-anchor="middle" fill="#222" stroke-width="0.12">**</text>
<text transform="translate(78.1 339.5) rotate(-45)" font-size="5.4" font-weight="bold" text-anchor="end" style="white-space:pre" fill="#222">blank  group</text>
<text transform="translate(113.4 339.5) rotate(-45)" font-size="5.4" font-weight="bold" text-anchor="end" style="white-space:pre" fill="#222">control  group</text>
<text transform="translate(148.6 339.5) rotate(-45)" font-size="5.4" font-weight="bold" text-anchor="end" style="white-space:pre" fill="#222">OE-group</text>
<text x="190" y="253.2" font-size="8.8" stroke-width="0.12" textLength="15.2" lengthAdjust="spacingAndGlyphs">(C2)</text>
<rect x="198.5" y="284.6" width="23.6" height="47.0" fill="#07653f" stroke="#111" stroke-width="1.1"/>
<path d="M210.3 331.6v2.4" stroke="#111" stroke-width="0.9"/>
<path d="M245.4 287.0V278.7M239.6 278.7H251.2" stroke="#111" stroke-width="1.12" fill="none"/>
<rect x="233.6" y="287.0" width="23.6" height="44.6" fill="#8888ff" stroke="#111" stroke-width="1.1"/>
<path d="M245.4 331.6v2.4" stroke="#111" stroke-width="0.9"/>
<path d="M280.5 315.3V312.7M274.7 312.7H286.3" stroke="#111" stroke-width="1.12" fill="none"/>
<rect x="268.7" y="315.3" width="23.6" height="16.3" fill="#ff3a3a" stroke="#111" stroke-width="1.1"/>
<path d="M280.5 331.6v2.4" stroke="#111" stroke-width="0.9"/>
<path d="M192.5 261.3V331.6H298.3" stroke="#111" stroke-width="1" fill="none"/>
<path d="M189.8 331.6H192.5" stroke="#111" stroke-width="0.9"/>
<text x="189.6" y="333.6" font-size="5.1" font-weight="bold" text-anchor="end">0.0</text>
<path d="M189.8 308.3H192.5" stroke="#111" stroke-width="0.9"/>
<text x="189.6" y="310.3" font-size="5.1" font-weight="bold" text-anchor="end">0.5</text>
<path d="M189.8 285.0H192.5" stroke="#111" stroke-width="0.9"/>
<text x="189.6" y="287.0" font-size="5.1" font-weight="bold" text-anchor="end">1.0</text>
<path d="M189.8 261.7H192.5" stroke="#111" stroke-width="0.9"/>
<text x="189.6" y="263.7" font-size="5.1" font-weight="bold" text-anchor="end">1.5</text>
<text transform="translate(178.7 330.0) rotate(-90)" font-family="Liberation Serif, serif" font-weight="bold" font-size="6.4" stroke-width="0.14" textLength="67.2" lengthAdjust="spacingAndGlyphs">AMPK RNA relative level</text>
<path d="M210.2 284.6 L210.2 256.7 L280.9 256.7 L280.9 315.3" stroke="#111" stroke-width="1.12" fill="none"/>
<path d="M210.2 268.5 L245.6 268.5" stroke="#111" stroke-width="1.12" fill="none"/>
<path d="M245.6 287.0 L245.6 267.5 L280.9 267.5" stroke="#111" stroke-width="1.12" fill="none"/>
<text x="241.9" y="256.1" font-size="8" text-anchor="middle" fill="#222" stroke-width="0.12">**</text>
<text transform="translate(223.9 265.0) skewX(-2)" font-size="6.9" font-style="italic" text-anchor="middle" fill="#222" stroke-width="0.1">ns</text>
<text x="262.8" y="267.0" font-size="8" text-anchor="middle" fill="#222" stroke-width="0.12">**</text>
<text transform="translate(210.9 338.8) rotate(-45)" font-size="5.4" font-weight="bold" text-anchor="end" style="white-space:pre" fill="#222">blank  group</text>
<text transform="translate(246.0 338.8) rotate(-45)" font-size="5.4" font-weight="bold" text-anchor="end" style="white-space:pre" fill="#222">control  group</text>
<text transform="translate(281.1 338.8) rotate(-45)" font-size="5.4" font-weight="bold" text-anchor="end" style="white-space:pre" fill="#222">OE-group</text>
<text x="320" y="253.2" font-size="8.8" stroke-width="0.12" textLength="15.2" lengthAdjust="spacingAndGlyphs">(C3)</text>
<path d="M337.9 281.6V279.3M332.1 279.3H343.7" stroke="#111" stroke-width="1.12" fill="none"/>
<rect x="326.1" y="281.6" width="23.6" height="49.7" fill="#07653f" stroke="#111" stroke-width="1.1"/>
<path d="M337.9 331.3v2.4" stroke="#111" stroke-width="0.9"/>
<path d="M373.1 285.4V282.2M367.3 282.2H378.9" stroke="#111" stroke-width="1.12" fill="none"/>
<rect x="361.3" y="285.4" width="23.6" height="45.9" fill="#8888ff" stroke="#111" stroke-width="1.1"/>
<path d="M373.1 331.3v2.4" stroke="#111" stroke-width="0.9"/>
<path d="M408.2 299.2V294.4M402.4 294.4H414.0" stroke="#111" stroke-width="1.12" fill="none"/>
<rect x="396.4" y="299.2" width="23.6" height="32.1" fill="#ff3a3a" stroke="#111" stroke-width="1.1"/>
<path d="M408.2 331.3v2.4" stroke="#111" stroke-width="0.9"/>
<path d="M320.1 261.1V331.3H426.0" stroke="#111" stroke-width="1" fill="none"/>
<path d="M317.4 331.3H320.1" stroke="#111" stroke-width="0.9"/>
<text x="319.5" y="333.3" font-size="5.1" font-weight="bold" text-anchor="end">0.0</text>
<path d="M317.4 308.0H320.1" stroke="#111" stroke-width="0.9"/>
<text x="319.5" y="310.0" font-size="5.1" font-weight="bold" text-anchor="end">0.5</text>
<path d="M317.4 284.8H320.1" stroke="#111" stroke-width="0.9"/>
<text x="319.5" y="286.8" font-size="5.1" font-weight="bold" text-anchor="end">1.0</text>
<path d="M317.4 261.5H320.1" stroke="#111" stroke-width="0.9"/>
<text x="319.5" y="263.5" font-size="5.1" font-weight="bold" text-anchor="end">1.5</text>
<text transform="translate(311.6 330.6) rotate(-90)" font-family="Liberation Serif, serif" font-weight="bold" font-size="6.4" stroke-width="0.14" textLength="69" lengthAdjust="spacingAndGlyphs">FOXO1 RNA relative level</text>
<path d="M337.8 281.6 L337.8 257.7 L408.1 257.7 L408.1 299.2" stroke="#111" stroke-width="1.12" fill="none"/>
<path d="M337.8 269.3 L372.3 269.3" stroke="#111" stroke-width="1.12" fill="none"/>
<path d="M372.3 285.4 L372.3 267.5 L408.1 267.5" stroke="#111" stroke-width="1.12" fill="none"/>
<text x="372.3" y="258.1" font-size="8" text-anchor="middle" fill="#222" stroke-width="0.12">**</text>
<text x="390.4" y="268.2" font-size="8" text-anchor="middle" fill="#222" stroke-width="0.12">**</text>
<text transform="translate(354.3 278.2) skewX(-2)" font-size="6.9" font-style="italic" text-anchor="middle" fill="#222" stroke-width="0.1">ns</text>
<text transform="translate(338.5 338.5) rotate(-45)" font-size="5.4" font-weight="bold" text-anchor="end" style="white-space:pre" fill="#222">blank  group</text>
<text transform="translate(373.7 338.5) rotate(-45)" font-size="5.4" font-weight="bold" text-anchor="end" style="white-space:pre" fill="#222">control  group</text>
<text transform="translate(408.8 338.5) rotate(-45)" font-size="5.4" font-weight="bold" text-anchor="end" style="white-space:pre" fill="#222">OE-group</text>
<text x="450.5" y="253.2" font-size="8.8" stroke-width="0.12" textLength="15.2" lengthAdjust="spacingAndGlyphs">(C4)</text>
<rect x="457.1" y="284.2" width="23.6" height="46.7" fill="#07653f" stroke="#111" stroke-width="1.1"/>
<path d="M468.9 330.9v2.4" stroke="#111" stroke-width="0.9"/>
<path d="M504.1 292.4V277.1M498.3 277.1H509.9" stroke="#111" stroke-width="1.12" fill="none"/>
<rect x="492.3" y="292.4" width="23.6" height="38.5" fill="#8888ff" stroke="#111" stroke-width="1.1"/>
<path d="M504.1 330.9v2.4" stroke="#111" stroke-width="0.9"/>
<path d="M539.3 320.3V318.9M533.5 318.9H545.1" stroke="#111" stroke-width="1.12" fill="none"/>
<rect x="527.5" y="320.3" width="23.6" height="10.6" fill="#ff3a3a" stroke="#111" stroke-width="1.1"/>
<path d="M539.3 330.9v2.4" stroke="#111" stroke-width="0.9"/>
<path d="M451.1 260.5V330.9H557.1" stroke="#111" stroke-width="1" fill="none"/>
<path d="M448.4 330.9H451.1" stroke="#111" stroke-width="0.9"/>
<text x="447.6" y="332.9" font-size="5.1" font-weight="bold" text-anchor="end">0.0</text>
<path d="M448.4 307.6H451.1" stroke="#111" stroke-width="0.9"/>
<text x="447.6" y="309.6" font-size="5.1" font-weight="bold" text-anchor="end">0.5</text>
<path d="M448.4 284.2H451.1" stroke="#111" stroke-width="0.9"/>
<text x="447.6" y="286.2" font-size="5.1" font-weight="bold" text-anchor="end">1.0</text>
<path d="M448.4 260.9H451.1" stroke="#111" stroke-width="0.9"/>
<text x="447.6" y="262.9" font-size="5.1" font-weight="bold" text-anchor="end">1.5</text>
<text transform="translate(438.1 329.7) rotate(-90)" font-family="Liberation Serif, serif" font-weight="bold" font-size="6.4" stroke-width="0.14" textLength="68" lengthAdjust="spacingAndGlyphs">PEBP1 RNA relative level</text>
<path d="M468.2 284.2 L468.2 260.7 L539.5 260.7 L539.5 320.3" stroke="#111" stroke-width="1.12" fill="none"/>
<path d="M468.2 271.1 L539.5 271.1" stroke="#111" stroke-width="1.12" fill="none"/>
<path d="M504.0 271.1 L504.0 292.4" stroke="#111" stroke-width="1.12" fill="none"/>
<text x="503.7" y="261.0" font-size="8" text-anchor="middle" fill="#222" stroke-width="0.12">**</text>
<text transform="translate(482.7 269.4) skewX(-2)" font-size="6.9" font-style="italic" text-anchor="middle" fill="#222" stroke-width="0.1">ns</text>
<text x="521.8" y="271.2" font-size="8" text-anchor="middle" fill="#222" stroke-width="0.12">*</text>
<text transform="translate(469.5 338.1) rotate(-45)" font-size="5.4" font-weight="bold" text-anchor="end" style="white-space:pre" fill="#222">blank  group</text>
<text transform="translate(504.7 338.1) rotate(-45)" font-size="5.4" font-weight="bold" text-anchor="end" style="white-space:pre" fill="#222">control  group</text>
<text transform="translate(539.9 338.1) rotate(-45)" font-size="5.4" font-weight="bold" text-anchor="end" style="white-space:pre" fill="#222">OE-group</text>
<text x="575.5" y="253.2" font-size="8.8" stroke-width="0.12" textLength="15.2" lengthAdjust="spacingAndGlyphs">(C5)</text>
<rect x="584.1" y="316.7" width="23.6" height="13.8" fill="#07653f" stroke="#111" stroke-width="1.1"/>
<path d="M595.9 330.5v2.4" stroke="#111" stroke-width="0.9"/>
<path d="M631.1 316.5V315.3M625.3 315.3H636.9" stroke="#111" stroke-width="1.12" fill="none"/>
<rect x="619.3" y="316.5" width="23.6" height="14.0" fill="#8888ff" stroke="#111" stroke-width="1.1"/>
<path d="M631.1 330.5v2.4" stroke="#111" stroke-width="0.9"/>
<path d="M666.2 279.5V276.5M660.4 276.5H672.0" stroke="#111" stroke-width="1.12" fill="none"/>
<rect x="654.4" y="279.5" width="23.6" height="51.0" fill="#ff3a3a" stroke="#111" stroke-width="1.1"/>
<path d="M666.2 330.5v2.4" stroke="#111" stroke-width="0.9"/>
<path d="M578.1 260.1V330.5H685.0" stroke="#111" stroke-width="1" fill="none"/>
<path d="M575.4 330.5H578.1" stroke="#111" stroke-width="0.9"/>
<text x="575.2" y="332.5" font-size="5.1" font-weight="bold" text-anchor="end">0</text>
<path d="M575.4 316.5H578.1" stroke="#111" stroke-width="0.9"/>
<text x="575.2" y="318.5" font-size="5.1" font-weight="bold" text-anchor="end">1</text>
<path d="M575.4 302.5H578.1" stroke="#111" stroke-width="0.9"/>
<text x="575.2" y="304.5" font-size="5.1" font-weight="bold" text-anchor="end">2</text>
<path d="M575.4 288.5H578.1" stroke="#111" stroke-width="0.9"/>
<text x="575.2" y="290.5" font-size="5.1" font-weight="bold" text-anchor="end">3</text>
<path d="M575.4 274.5H578.1" stroke="#111" stroke-width="0.9"/>
<text x="575.2" y="276.5" font-size="5.1" font-weight="bold" text-anchor="end">4</text>
<path d="M575.4 260.5H578.1" stroke="#111" stroke-width="0.9"/>
<text x="575.2" y="262.5" font-size="5.1" font-weight="bold" text-anchor="end">5</text>
<text transform="translate(568.6 329.3) rotate(-90)" font-family="Liberation Serif, serif" font-weight="bold" font-size="6.4" stroke-width="0.14" textLength="68" lengthAdjust="spacingAndGlyphs">PCYT2 RNA relative level</text>
<path d="M595.6 316.7 L595.6 260.5 L667.5 260.5 L667.5 279.5" stroke="#111" stroke-width="1.12" fill="none"/>
<path d="M630.7 316.5 L630.7 270.7 L667.5 270.7" stroke="#111" stroke-width="1.12" fill="none"/>
<path d="M595.6 296.2 L630.7 296.2" stroke="#111" stroke-width="1.12" fill="none"/>
<text x="630.9" y="260.8" font-size="8" text-anchor="middle" fill="#222" stroke-width="0.12">**</text>
<text x="649.0" y="271.0" font-size="8" text-anchor="middle" fill="#222" stroke-width="0.12">**</text>
<text transform="translate(612.9 294.7) skewX(-2)" font-size="6.9" font-style="italic" text-anchor="middle" fill="#222" stroke-width="0.1">ns</text>
<text transform="translate(596.5 337.7) rotate(-45)" font-size="5.4" font-weight="bold" text-anchor="end" style="white-space:pre" fill="#222">blank  group</text>
<text transform="translate(631.7 337.7) rotate(-45)" font-size="5.4" font-weight="bold" text-anchor="end" style="white-space:pre" fill="#222">control  group</text>
<text transform="translate(666.8 337.7) rotate(-45)" font-size="5.4" font-weight="bold" text-anchor="end" style="white-space:pre" fill="#222">OE-group</text>
<text x="60.8" y="373.1" font-size="8.8" stroke-width="0.12" textLength="15.2" lengthAdjust="spacingAndGlyphs">(D1)</text>
<path d="M76.8 440.3V439.3M71.0 439.3H82.6" stroke="#111" stroke-width="1.12" fill="none"/>
<rect x="65.0" y="440.3" width="23.6" height="15.1" fill="#07653f" stroke="#111" stroke-width="1.1"/>
<path d="M76.8 455.4v2.4" stroke="#111" stroke-width="0.9"/>
<path d="M112.2 438.3V435.7M106.4 435.7H118.0" stroke="#111" stroke-width="1.12" fill="none"/>
<rect x="100.4" y="438.3" width="23.6" height="17.1" fill="#8888ff" stroke="#111" stroke-width="1.1"/>
<path d="M112.2 455.4v2.4" stroke="#111" stroke-width="0.9"/>
<path d="M147.3 411.0V398.1M141.5 398.1H153.1" stroke="#111" stroke-width="1.12" fill="none"/>
<rect x="135.5" y="411.0" width="23.6" height="44.4" fill="#ff3a3a" stroke="#111" stroke-width="1.1"/>
<path d="M147.3 455.4v2.4" stroke="#111" stroke-width="0.9"/>
<path d="M59.2 385.1V455.4H165.1" stroke="#111" stroke-width="1" fill="none"/>
<path d="M56.5 455.4H59.2" stroke="#111" stroke-width="0.9"/>
<text x="56.4" y="457.4" font-size="5.1" font-weight="bold" text-anchor="end">0</text>
<path d="M56.5 441.4H59.2" stroke="#111" stroke-width="0.9"/>
<text x="56.4" y="443.4" font-size="5.1" font-weight="bold" text-anchor="end">1</text>
<path d="M56.5 427.4H59.2" stroke="#111" stroke-width="0.9"/>
<text x="56.4" y="429.4" font-size="5.1" font-weight="bold" text-anchor="end">2</text>
<path d="M56.5 413.5H59.2" stroke="#111" stroke-width="0.9"/>
<text x="56.4" y="415.5" font-size="5.1" font-weight="bold" text-anchor="end">3</text>
<path d="M56.5 399.5H59.2" stroke="#111" stroke-width="0.9"/>
<text x="56.4" y="401.5" font-size="5.1" font-weight="bold" text-anchor="end">4</text>
<path d="M56.5 385.5H59.2" stroke="#111" stroke-width="0.9"/>
<text x="56.4" y="387.5" font-size="5.1" font-weight="bold" text-anchor="end">5</text>
<text transform="translate(50.2 452.5) rotate(-90)" font-family="Liberation Serif, serif" font-weight="bold" font-size="6.4" stroke-width="0.14" textLength="65" lengthAdjust="spacingAndGlyphs">LKB1 RNA relative level</text>
<path d="M76.7 440.3 L76.7 380.1 L147.2 380.1 L147.2 411.0" stroke="#111" stroke-width="1.12" fill="none"/>
<path d="M112.0 438.3 L112.0 392.5 L147.2 392.5" stroke="#111" stroke-width="1.12" fill="none"/>
<path d="M76.7 414.2 L112.0 414.2" stroke="#111" stroke-width="1.12" fill="none"/>
<text x="113.5" y="377.9" font-size="8" text-anchor="middle" fill="#222" stroke-width="0.12">*</text>
<text x="128.5" y="390.6" font-size="8" text-anchor="middle" fill="#222" stroke-width="0.12">*</text>
<text transform="translate(95.0 411.1) skewX(-2)" font-size="6.9" font-style="italic" text-anchor="middle" fill="#222" stroke-width="0.1">ns</text>
<text transform="translate(77.4 462.6) rotate(-45)" font-size="5.4" font-weight="bold" text-anchor="end" style="white-space:pre" fill="#222">blank  group</text>
<text transform="translate(112.8 462.6) rotate(-45)" font-size="5.4" font-weight="bold" text-anchor="end" style="white-space:pre" fill="#222">control  group</text>
<text transform="translate(147.9 462.6) rotate(-45)" font-size="5.4" font-weight="bold" text-anchor="end" style="white-space:pre" fill="#222">SH-group</text>
<text x="190.4" y="373.1" font-size="8.8" stroke-width="0.12" textLength="15.2" lengthAdjust="spacingAndGlyphs">(D2)</text>
<path d="M209.8 425.4V421.8M204.0 421.8H215.6" stroke="#111" stroke-width="1.12" fill="none"/>
<rect x="198.0" y="425.4" width="23.6" height="30.0" fill="#07653f" stroke="#111" stroke-width="1.1"/>
<path d="M209.8 455.4v2.4" stroke="#111" stroke-width="0.9"/>
<path d="M244.9 423.6V408.4M239.1 408.4H250.7" stroke="#111" stroke-width="1.12" fill="none"/>
<rect x="233.1" y="423.6" width="23.6" height="31.8" fill="#8888ff" stroke="#111" stroke-width="1.1"/>
<path d="M244.9 455.4v2.4" stroke="#111" stroke-width="0.9"/>
<path d="M280.0 407.0V401.5M274.2 401.5H285.8" stroke="#111" stroke-width="1.12" fill="none"/>
<rect x="268.2" y="407.0" width="23.6" height="48.4" fill="#ff3a3a" stroke="#111" stroke-width="1.1"/>
<path d="M280.0 455.4v2.4" stroke="#111" stroke-width="0.9"/>
<path d="M192.0 385.1V455.4H297.8" stroke="#111" stroke-width="1" fill="none"/>
<path d="M189.3 455.4H192.0" stroke="#111" stroke-width="0.9"/>
<text x="189.4" y="457.4" font-size="5.1" font-weight="bold" text-anchor="end">0.0</text>
<path d="M189.3 441.4H192.0" stroke="#111" stroke-width="0.9"/>
<text x="189.4" y="443.4" font-size="5.1" font-weight="bold" text-anchor="end">0.5</text>
<path d="M189.3 427.4H192.0" stroke="#111" stroke-width="0.9"/>
<text x="189.4" y="429.4" font-size="5.1" font-weight="bold" text-anchor="end">1.0</text>
<path d="M189.3 413.5H192.0" stroke="#111" stroke-width="0.9"/>
<text x="189.4" y="415.5" font-size="5.1" font-weight="bold" text-anchor="end">1.5</text>
<path d="M189.3 399.5H192.0" stroke="#111" stroke-width="0.9"/>
<text x="189.4" y="401.5" font-size="5.1" font-weight="bold" text-anchor="end">2.0</text>
<path d="M189.3 385.5H192.0" stroke="#111" stroke-width="0.9"/>
<text x="189.4" y="387.5" font-size="5.1" font-weight="bold" text-anchor="end">2.5</text>
<text transform="translate(178.9 453.9) rotate(-90)" font-family="Liberation Serif, serif" font-weight="bold" font-size="6.4" stroke-width="0.14" textLength="67" lengthAdjust="spacingAndGlyphs">AMPK RNA relative level</text>
<path d="M209.8 425.4 L209.8 374.0 L279.9 374.0 L279.9 407.0" stroke="#111" stroke-width="1.12" fill="none"/>
<path d="M209.8 390.7 L279.9 390.7" stroke="#111" stroke-width="1.12" fill="none"/>
<path d="M244.9 390.7 L244.9 423.6" stroke="#111" stroke-width="1.12" fill="none"/>
<text x="244.1" y="372.9" font-size="8" text-anchor="middle" fill="#222" stroke-width="0.12">**</text>
<text transform="translate(223.5 387.8) skewX(-2)" font-size="6.9" font-style="italic" text-anchor="middle" fill="#222" stroke-width="0.1">ns</text>
<text x="261.8" y="388.0" font-size="8" text-anchor="middle" fill="#222" stroke-width="0.12">**</text>
<text transform="translate(210.4 462.6) rotate(-45)" font-size="5.4" font-weight="bold" text-anchor="end" style="white-space:pre" fill="#222">blank  group</text>
<text transform="translate(245.5 462.6) rotate(-45)" font-size="5.4" font-weight="bold" text-anchor="end" style="white-space:pre" fill="#222">control  group</text>
<text transform="translate(280.6 462.6) rotate(-45)" font-size="5.4" font-weight="bold" text-anchor="end" style="white-space:pre" fill="#222">SH-group</text>
<text x="320.8" y="373.1" font-size="8.8" stroke-width="0.12" textLength="15.2" lengthAdjust="spacingAndGlyphs">(D3)</text>
<path d="M338.3 427.2V423.8M332.5 423.8H344.1" stroke="#111" stroke-width="1.12" fill="none"/>
<rect x="326.5" y="427.2" width="23.6" height="27.8" fill="#07653f" stroke="#111" stroke-width="1.1"/>
<path d="M338.3 455.0v2.4" stroke="#111" stroke-width="0.9"/>
<path d="M373.9 426.6V424.8M368.1 424.8H379.7" stroke="#111" stroke-width="1.12" fill="none"/>
<rect x="362.1" y="426.6" width="23.6" height="28.4" fill="#8888ff" stroke="#111" stroke-width="1.1"/>
<path d="M373.9 455.0v2.4" stroke="#111" stroke-width="0.9"/>
<path d="M409.1 396.3V395.1M403.3 395.1H414.9" stroke="#111" stroke-width="1.12" fill="none"/>
<rect x="397.3" y="396.3" width="23.6" height="58.7" fill="#ff3a3a" stroke="#111" stroke-width="1.1"/>
<path d="M409.1 455.0v2.4" stroke="#111" stroke-width="0.9"/>
<path d="M320.4 384.3V455.0H426.9" stroke="#111" stroke-width="1" fill="none"/>
<path d="M317.7 455.0H320.4" stroke="#111" stroke-width="0.9"/>
<text x="317.8" y="457.0" font-size="5.1" font-weight="bold" text-anchor="end">0</text>
<path d="M317.7 437.4H320.4" stroke="#111" stroke-width="0.9"/>
<text x="317.8" y="439.4" font-size="5.1" font-weight="bold" text-anchor="end">1</text>
<path d="M317.7 419.9H320.4" stroke="#111" stroke-width="0.9"/>
<text x="317.8" y="421.9" font-size="5.1" font-weight="bold" text-anchor="end">2</text>
<path d="M317.7 402.3H320.4" stroke="#111" stroke-width="0.9"/>
<text x="317.8" y="404.3" font-size="5.1" font-weight="bold" text-anchor="end">3</text>
<path d="M317.7 384.7H320.4" stroke="#111" stroke-width="0.9"/>
<text x="317.8" y="386.7" font-size="5.1" font-weight="bold" text-anchor="end">4</text>
<text transform="translate(312.0 453.8) rotate(-90)" font-family="Liberation Serif, serif" font-weight="bold" font-size="6.4" stroke-width="0.14" textLength="68" lengthAdjust="spacingAndGlyphs">FOXO1 RNA relative level</text>
<path d="M339.0 427.2 L339.0 377.6 L408.9 377.6 L408.9 396.3" stroke="#111" stroke-width="1.12" fill="none"/>
<path d="M339.0 387.3 L408.9 387.3" stroke="#111" stroke-width="1.12" fill="none"/>
<path d="M374.0 387.3 L374.0 426.6" stroke="#111" stroke-width="1.12" fill="none"/>
<text x="373.6" y="377.5" font-size="8" text-anchor="middle" fill="#222" stroke-width="0.12">*</text>
<text transform="translate(358.1 386.0) skewX(-2)" font-size="6.9" font-style="italic" text-anchor="middle" fill="#222" stroke-width="0.1">ns</text>
<text x="391.2" y="387.2" font-size="8" text-anchor="middle" fill="#222" stroke-width="0.12">*</text>
<text transform="translate(338.9 462.2) rotate(-45)" font-size="5.4" font-weight="bold" text-anchor="end" style="white-space:pre" fill="#222">blank  group</text>
<text transform="translate(374.5 462.2) rotate(-45)" font-size="5.4" font-weight="bold" text-anchor="end" style="white-space:pre" fill="#222">control  group</text>
<text transform="translate(409.7 462.2) rotate(-45)" font-size="5.4" font-weight="bold" text-anchor="end" style="white-space:pre" fill="#222">SH-group</text>
<text x="451.5" y="373.1" font-size="8.8" stroke-width="0.12" textLength="15.2" lengthAdjust="spacingAndGlyphs">(D4)</text>
<rect x="457.1" y="426.2" width="23.6" height="28.2" fill="#07653f" stroke="#111" stroke-width="1.1"/>
<path d="M468.9 454.4v2.4" stroke="#111" stroke-width="0.9"/>
<path d="M504.0 424.8V419.2M498.2 419.2H509.8" stroke="#111" stroke-width="1.12" fill="none"/>
<rect x="492.2" y="424.8" width="23.6" height="29.6" fill="#8888ff" stroke="#111" stroke-width="1.1"/>
<path d="M504.0 454.4v2.4" stroke="#111" stroke-width="0.9"/>
<path d="M539.1 397.5V392.3M533.3 392.3H544.9" stroke="#111" stroke-width="1.12" fill="none"/>
<rect x="527.3" y="397.5" width="23.6" height="56.9" fill="#ff3a3a" stroke="#111" stroke-width="1.1"/>
<path d="M539.1 454.4v2.4" stroke="#111" stroke-width="0.9"/>
<path d="M451.6 384.3V454.4H556.9" stroke="#111" stroke-width="1" fill="none"/>
<path d="M448.9 454.4H451.6" stroke="#111" stroke-width="0.9"/>
<text x="448.2" y="456.4" font-size="5.1" font-weight="bold" text-anchor="end">0.0</text>
<path d="M448.9 440.5H451.6" stroke="#111" stroke-width="0.9"/>
<text x="448.2" y="442.5" font-size="5.1" font-weight="bold" text-anchor="end">0.5</text>
<path d="M448.9 426.5H451.6" stroke="#111" stroke-width="0.9"/>
<text x="448.2" y="428.5" font-size="5.1" font-weight="bold" text-anchor="end">1.0</text>
<path d="M448.9 412.6H451.6" stroke="#111" stroke-width="0.9"/>
<text x="448.2" y="414.6" font-size="5.1" font-weight="bold" text-anchor="end">1.5</text>
<path d="M448.9 398.6H451.6" stroke="#111" stroke-width="0.9"/>
<text x="448.2" y="400.6" font-size="5.1" font-weight="bold" text-anchor="end">2.0</text>
<path d="M448.9 384.7H451.6" stroke="#111" stroke-width="0.9"/>
<text x="448.2" y="386.7" font-size="5.1" font-weight="bold" text-anchor="end">2.5</text>
<text transform="translate(437.5 453.2) rotate(-90)" font-family="Liberation Serif, serif" font-weight="bold" font-size="6.4" stroke-width="0.14" textLength="68" lengthAdjust="spacingAndGlyphs">PEBP1 RNA relative level</text>
<path d="M468.1 426.2 L468.1 378.7 L539.0 378.7 L539.0 397.5" stroke="#111" stroke-width="1.12" fill="none"/>
<path d="M503.9 424.8 L503.9 386.1 L539.0 386.1" stroke="#111" stroke-width="1.12" fill="none"/>
<path d="M468.1 390.5 L503.9 390.5" stroke="#111" stroke-width="1.12" fill="none"/>
<text x="503.7" y="377.5" font-size="8" text-anchor="middle" fill="#222" stroke-width="0.12">**</text>
<text x="520.3" y="386.0" font-size="8" text-anchor="middle" fill="#222" stroke-width="0.12">**</text>
<text transform="translate(482.6 389.4) skewX(-2)" font-size="6.9" font-style="italic" text-anchor="middle" fill="#222" stroke-width="0.1">ns</text>
<text transform="translate(469.5 461.6) rotate(-45)" font-size="5.4" font-weight="bold" text-anchor="end" style="white-space:pre" fill="#222">blank  group</text>
<text transform="translate(504.6 461.6) rotate(-45)" font-size="5.4" font-weight="bold" text-anchor="end" style="white-space:pre" fill="#222">control  group</text>
<text transform="translate(539.7 461.6) rotate(-45)" font-size="5.4" font-weight="bold" text-anchor="end" style="white-space:pre" fill="#222">SH-group</text>
<text x="575.5" y="373.1" font-size="8.8" stroke-width="0.12" textLength="15.2" lengthAdjust="spacingAndGlyphs">(D5)</text>
<rect x="584.5" y="407.0" width="23.6" height="46.8" fill="#07653f" stroke="#111" stroke-width="1.1"/>
<path d="M596.3 453.8v2.4" stroke="#111" stroke-width="0.9"/>
<path d="M631.7 407.6V397.5M625.9 397.5H637.5" stroke="#111" stroke-width="1.12" fill="none"/>
<rect x="619.9" y="407.6" width="23.6" height="46.2" fill="#8888ff" stroke="#111" stroke-width="1.1"/>
<path d="M631.7 453.8v2.4" stroke="#111" stroke-width="0.9"/>
<path d="M666.9 445.7V443.7M661.1 443.7H672.7" stroke="#111" stroke-width="1.12" fill="none"/>
<rect x="655.1" y="445.7" width="23.6" height="8.1" fill="#ff3a3a" stroke="#111" stroke-width="1.1"/>
<path d="M666.9 453.8v2.4" stroke="#111" stroke-width="0.9"/>
<path d="M578.5 383.3V453.8H685.0" stroke="#111" stroke-width="1" fill="none"/>
<path d="M575.8 453.8H578.5" stroke="#111" stroke-width="0.9"/>
<text x="577.9" y="455.8" font-size="5.1" font-weight="bold" text-anchor="end">0.0</text>
<path d="M575.8 430.4H578.5" stroke="#111" stroke-width="0.9"/>
<text x="577.9" y="432.4" font-size="5.1" font-weight="bold" text-anchor="end">0.5</text>
<path d="M575.8 407.1H578.5" stroke="#111" stroke-width="0.9"/>
<text x="577.9" y="409.1" font-size="5.1" font-weight="bold" text-anchor="end">1.0</text>
<path d="M575.8 383.7H578.5" stroke="#111" stroke-width="0.9"/>
<text x="577.9" y="385.7" font-size="5.1" font-weight="bold" text-anchor="end">1.5</text>
<text transform="translate(569.2 452.6) rotate(-90)" font-family="Liberation Serif, serif" font-weight="bold" font-size="6.4" stroke-width="0.14" textLength="68" lengthAdjust="spacingAndGlyphs">PCYT2 RNA relative level</text>
<path d="M595.8 407.0 L595.8 383.7 L666.5 383.7 L666.5 445.7" stroke="#111" stroke-width="1.12" fill="none"/>
<path d="M595.8 392.5 L631.3 392.5" stroke="#111" stroke-width="1.12" fill="none"/>
<path d="M631.3 407.6 L631.3 391.5 L666.5 391.5" stroke="#111" stroke-width="1.12" fill="none"/>
<text x="630.9" y="383.6" font-size="8" text-anchor="middle" fill="#222" stroke-width="0.12">**</text>
<text transform="translate(610.2 392.0) skewX(-2)" font-size="6.9" font-style="italic" text-anchor="middle" fill="#222" stroke-width="0.1">ns</text>
<text x="649.0" y="392.6" font-size="8" text-anchor="middle" fill="#222" stroke-width="0.12">**</text>
<text transform="translate(596.9 461.0) rotate(-45)" font-size="5.4" font-weight="bold" text-anchor="end" style="white-space:pre" fill="#222">blank  group</text>
<text transform="translate(632.3 461.0) rotate(-45)" font-size="5.4" font-weight="bold" text-anchor="end" style="white-space:pre" fill="#222">control  group</text>
<text transform="translate(667.5 461.0) rotate(-45)" font-size="5.4" font-weight="bold" text-anchor="end" style="white-space:pre" fill="#222">SH-group</text>
</g></g></svg>
</body></html>
